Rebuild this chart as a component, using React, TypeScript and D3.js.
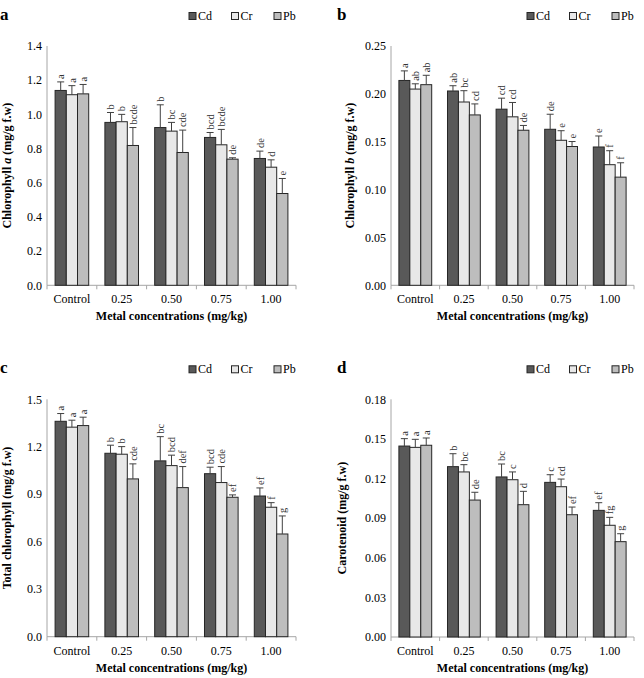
import React from 'react';
import * as d3 from 'd3';

// ---------------------------------------------------------------------------
// Data
// ---------------------------------------------------------------------------

const categories = ['Control', '0.25', '0.50', '0.75', '1.00'];
const metals = ['Cd', 'Cr', 'Pb'];

// rows = Cd, Cr, Pb
const chlAMean = [
  [1.14, 0.953, 0.923, 0.865, 0.742],
  [1.115, 0.957, 0.902, 0.822, 0.691],
  [1.12, 0.818, 0.777, 0.738, 0.537],
];
const chlAErr = [
  [0.05, 0.058, 0.133, 0.029, 0.043],
  [0.053, 0.043, 0.051, 0.09, 0.043],
  [0.055, 0.105, 0.131, 0.008, 0.088],
];
const chlALetters = [
  ['a', 'b', 'b', 'bcd', 'de'],
  ['a', 'b', 'bc', 'bcde', 'd'],
  ['a', 'bcde', 'cde', 'de', 'e'],
];

const chlBMean = [
  [0.214, 0.203, 0.184, 0.163, 0.1445],
  [0.205, 0.1915, 0.176, 0.1515, 0.126],
  [0.2096, 0.178, 0.162, 0.145, 0.113],
];
const chlBErr = [
  [0.01, 0.0055, 0.0115, 0.0157, 0.0115],
  [0.0055, 0.0118, 0.015, 0.01, 0.0146],
  [0.0098, 0.0115, 0.005, 0.0052, 0.015],
];
const chlBLetters = [
  ['a', 'ab', 'cd', 'de', 'e'],
  ['ab', 'bc', 'cd', 'e', 'f'],
  ['ab', 'cd', 'de', 'e', 'f'],
];

const totalMean = [
  [1.361, 1.159, 1.111, 1.03, 0.889],
  [1.324, 1.153, 1.081, 0.974, 0.818],
  [1.334, 0.997, 0.942, 0.881, 0.649],
];
const totalErr = [
  [0.049, 0.051, 0.153, 0.041, 0.051],
  [0.044, 0.048, 0.066, 0.101, 0.029],
  [0.053, 0.095, 0.133, 0.015, 0.114],
];
const totalLetters = [
  ['a', 'b', 'bc', 'bcd', 'ef'],
  ['a', 'b', 'bcd', 'cde', 'f'],
  ['a', 'cde', 'def', 'ef', 'g'],
];

const caroMean = [
  [0.1446, 0.129, 0.1212, 0.1171, 0.0959],
  [0.1436, 0.125, 0.1191, 0.1138, 0.0846],
  [0.1452, 0.1037, 0.1002, 0.0926, 0.0722],
];
const caroErr = [
  [0.0056, 0.0098, 0.0098, 0.0058, 0.0058],
  [0.0061, 0.0055, 0.0059, 0.0058, 0.006],
  [0.0055, 0.0059, 0.0101, 0.0058, 0.006],
];
const caroLetters = [
  ['a', 'b', 'bc', 'c', 'ef'],
  ['a', 'bc', 'c', 'cd', 'fg'],
  ['a', 'de', 'd', 'ef', 'g'],
];

const chlATicks = [0, 0.2, 0.4, 0.6, 0.8, 1.0, 1.2, 1.4];
const chlBTicks = [0, 0.05, 0.1, 0.15, 0.2, 0.25];
const totalTicks = [0, 0.3, 0.6, 0.9, 1.2, 1.5];
const caroTicks = [0, 0.03, 0.06, 0.09, 0.12, 0.15, 0.18];

// ---------------------------------------------------------------------------
// Styles
// ---------------------------------------------------------------------------

const FILLS = ['#595959', '#e8e8e8', '#bdbdbd'];
const BAR_STROKE = '#262626';
const AXIS_COLOR = '#a6a6a6';
const ERR_COLOR = '#404040';
const FONT = '"Liberation Serif", "Times New Roman", serif';

interface PanelProps {
  letter: string;
  letterX: number;
  left: number;
  right: number;
  top: number;
  bottom: number;
  ticks: number[];
  decimals: number;
  mean: number[][];
  err: number[][];
  letters: string[][];
  yTitle: React.ReactNode;
  yTitleX: number;
}

function Panel({
  letter, letterX, left, right, top, bottom, ticks, decimals,
  mean, err, letters, yTitle, yTitleX,
}: PanelProps) {
  const y = d3.scaleLinear()
    .domain([0, ticks[ticks.length - 1]])
    .range([bottom, top]);

  const x = d3.scaleBand<string>()
    .domain(categories)
    .range([left, right])
    .paddingInner(0.325)
    .paddingOuter(0.1625);

  const xs = d3.scaleBand<string>()
    .domain(metals)
    .range([0, x.bandwidth()]);

  const step = x.step();
  const boundaries = d3.range(categories.length + 1).map(i => left + i * step);

  return (
    <g fontFamily={FONT}>
      {/* panel letter */}
      <text x={letterX} y={top - 26} fontSize={17} fontWeight="bold">{letter}</text>

      {/* legend */}
      {metals.map((m, i) => {
        const lx = right - 107 + i * 42.5;
        return (
          <g key={m}>
            <rect x={lx} y={top - 33.5} width={7} height={7} fill={FILLS[i]} stroke={BAR_STROKE} strokeWidth={1} />
            <text x={lx + 9} y={top - 26} fontSize={12}>{m}</text>
          </g>
        );
      })}

      {/* y axis */}
      <line x1={left} x2={left} y1={top} y2={bottom} stroke={AXIS_COLOR} />
      {ticks.map(t => (
        <text key={t} x={left - 5} y={y(t)} dy="0.35em" textAnchor="end" fontSize={12}>
          {t.toFixed(decimals)}
        </text>
      ))}

      {/* x axis */}
      <line x1={left} x2={right} y1={bottom} y2={bottom} stroke={AXIS_COLOR} />
      {boundaries.map((bx, i) => (
        <line key={i} x1={bx} x2={bx} y1={bottom} y2={bottom + 4} stroke={AXIS_COLOR} />
      ))}
      {categories.map(c => (
        <text key={c} x={(x(c) ?? 0) + x.bandwidth() / 2} y={bottom + 18} textAnchor="middle" fontSize={12}>
          {c}
        </text>
      ))}
      <text x={(left + right) / 2} y={bottom + 35} textAnchor="middle" fontSize={12} fontWeight="bold">
        Metal concentrations (mg/kg)
      </text>

      {/* y title */}
      <text
        transform={`translate(${yTitleX},${(top + bottom) / 2}) rotate(-90)`}
        textAnchor="middle"
        fontSize={12}
        fontWeight="bold"
      >
        {yTitle}
      </text>

      {/* bars */}
      {metals.map((m, si) => (
        <g key={m}>
          {categories.map((c, ci) => {
            const bx = (x(c) ?? 0) + (xs(m) ?? 0);
            const bw = xs.bandwidth();
            const v = mean[si][ci];
            const e = err[si][ci];
            const cx = bx + bw / 2;
            const eTop = y(v + e);
            return (
              <g key={c}>
                <rect x={bx} y={y(v)} width={bw} height={bottom - y(v)} fill={FILLS[si]} stroke={BAR_STROKE} strokeWidth={1} />
                <line x1={cx} x2={cx} y1={y(v)} y2={eTop} stroke={ERR_COLOR} />
                <line x1={cx - 3.5} x2={cx + 3.5} y1={eTop} y2={eTop} stroke={ERR_COLOR} />
                <text
                  transform={`translate(${cx},${eTop - 3}) rotate(-90)`}
                  dy="0.35em"
                  fontSize={10.5}
                  fill="#333"
                >
                  {letters[si][ci]}
                </text>
              </g>
            );
          })}
        </g>
      ))}
    </g>
  );
}

export default function App() {
  return (
    <svg
      width={644}
      height={678}
      style={{ position: 'absolute', left: 0, top: 0, background: '#fff' }}
    >
      <Panel
        letter="a" letterX={0}
        left={47} right={296} top={46} bottom={285.3}
        ticks={chlATicks} decimals={1}
        mean={chlAMean} err={chlAErr} letters={chlALetters}
        yTitle={<>Chlorophyll <tspan fontStyle="italic">a</tspan>  (mg/g f.w)</>}
        yTitleX={11}
      />
      <Panel
        letter="b" letterX={337}
        left={391} right={634} top={46} bottom={285.3}
        ticks={chlBTicks} decimals={2}
        mean={chlBMean} err={chlBErr} letters={chlBLetters}
        yTitle={<>Chlorophyll <tspan fontStyle="italic">b</tspan>  (mg/g f.w)</>}
        yTitleX={354}
      />
      <Panel
        letter="c" letterX={0}
        left={47} right={296} top={399.3} bottom={636.7}
        ticks={totalTicks} decimals={1}
        mean={totalMean} err={totalErr} letters={totalLetters}
        yTitle="Total chlorophyll  (mg/g f.w)"
        yTitleX={11}
      />
      <Panel
        letter="d" letterX={337}
        left={391} right={634} top={399.3} bottom={637}
        ticks={caroTicks} decimals={2}
        mean={caroMean} err={caroErr} letters={caroLetters}
        yTitle="Carotenoid (mg/g f.w)"
        yTitleX={346}
      />
    </svg>
  );
}
